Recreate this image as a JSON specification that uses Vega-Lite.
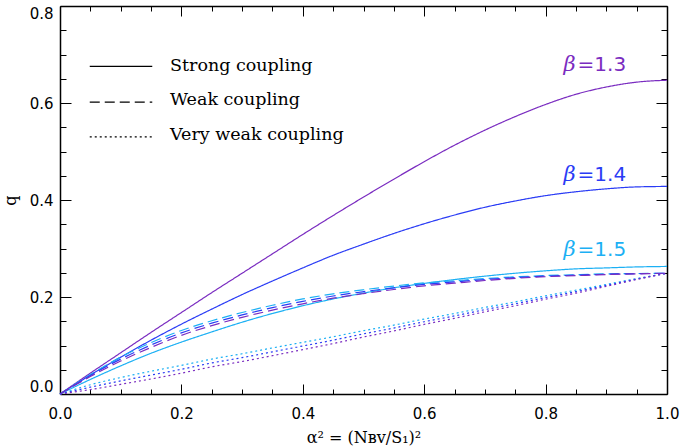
{
  "$schema": "https://vega.github.io/schema/vega-lite/v6.json",
  "width": 607,
  "height": 388,
  "autosize": {"type": "none"},
  "padding": {"left": 60, "top": 6, "right": 14, "bottom": 52},
  "background": "white",
  "config": {
    "view": {"stroke": null},
    "axis": {
      "grid": false,
      "domainColor": "black",
      "domainWidth": 1.5,
      "tickColor": "black",
      "tickWidth": 1,
      "labelColor": "black",
      "labelFont": "DejaVu Sans",
      "labelFontSize": 15,
      "titleColor": "black",
      "titleFont": "DejaVu Serif",
      "titleFontSize": 16,
      "titleFontWeight": "normal",
      "labelOverlap": false,
      "labelBound": false
    }
  },
  "datasets": {
    "curves": [
      {"a": 0, "s13": 0, "s14": 0, "s15": 0, "w13": 0, "w14": 0, "w15": 0, "v13": 0, "v14": 0, "v15": 0},
      {"a": 0.05, "s13": 0.043, "s14": 0.039, "s15": 0.030, "w13": 0.036, "w14": 0.038, "w15": 0.040, "v13": 0.009, "v14": 0.014, "v15": 0.019},
      {"a": 0.1, "s13": 0.085, "s14": 0.076, "s15": 0.058, "w13": 0.068, "w14": 0.072, "w15": 0.076, "v13": 0.020, "v14": 0.027, "v15": 0.034},
      {"a": 0.15, "s13": 0.127, "s14": 0.111, "s15": 0.084, "w13": 0.096, "w14": 0.101, "w15": 0.106, "v13": 0.031, "v14": 0.039, "v15": 0.047},
      {"a": 0.2, "s13": 0.168, "s14": 0.144, "s15": 0.107, "w13": 0.121, "w14": 0.126, "w15": 0.131, "v13": 0.043, "v14": 0.051, "v15": 0.059},
      {"a": 0.25, "s13": 0.209, "s14": 0.175, "s15": 0.128, "w13": 0.141, "w14": 0.146, "w15": 0.151, "v13": 0.056, "v14": 0.064, "v15": 0.072},
      {"a": 0.3, "s13": 0.249, "s14": 0.205, "s15": 0.148, "w13": 0.158, "w14": 0.163, "w15": 0.168, "v13": 0.067, "v14": 0.075, "v15": 0.083},
      {"a": 0.35, "s13": 0.289, "s14": 0.233, "s15": 0.166, "w13": 0.173, "w14": 0.178, "w15": 0.183, "v13": 0.079, "v14": 0.087, "v15": 0.095},
      {"a": 0.4, "s13": 0.329, "s14": 0.260, "s15": 0.182, "w13": 0.186, "w14": 0.191, "w15": 0.196, "v13": 0.0915, "v14": 0.099, "v15": 0.1065},
      {"a": 0.45, "s13": 0.368, "s14": 0.286, "s15": 0.196, "w13": 0.1975, "w14": 0.202, "w15": 0.2065, "v13": 0.104, "v14": 0.111, "v15": 0.118},
      {"a": 0.5, "s13": 0.406, "s14": 0.309, "s15": 0.208, "w13": 0.207, "w14": 0.211, "w15": 0.215, "v13": 0.1175, "v14": 0.124, "v15": 0.1305},
      {"a": 0.55, "s13": 0.443, "s14": 0.331, "s15": 0.219, "w13": 0.2155, "w14": 0.219, "w15": 0.2225, "v13": 0.130, "v14": 0.136, "v15": 0.142},
      {"a": 0.6, "s13": 0.479, "s14": 0.351, "s15": 0.228, "w13": 0.223, "w14": 0.226, "w15": 0.229, "v13": 0.1435, "v14": 0.149, "v15": 0.1545},
      {"a": 0.65, "s13": 0.513, "s14": 0.369, "s15": 0.236, "w13": 0.2285, "w14": 0.231, "w15": 0.2335, "v13": 0.156, "v14": 0.161, "v15": 0.166},
      {"a": 0.7, "s13": 0.544, "s14": 0.385, "s15": 0.243, "w13": 0.234, "w14": 0.236, "w15": 0.238, "v13": 0.1695, "v14": 0.174, "v15": 0.1785},
      {"a": 0.75, "s13": 0.572, "s14": 0.398, "s15": 0.249, "w13": 0.2385, "w14": 0.240, "w15": 0.2415, "v13": 0.182, "v14": 0.186, "v15": 0.190},
      {"a": 0.8, "s13": 0.597, "s14": 0.409, "s15": 0.254, "w13": 0.2418, "w14": 0.243, "w15": 0.2442, "v13": 0.1955, "v14": 0.199, "v15": 0.2025},
      {"a": 0.85, "s13": 0.618, "s14": 0.417, "s15": 0.258, "w13": 0.244, "w14": 0.245, "w15": 0.246, "v13": 0.208, "v14": 0.211, "v15": 0.214},
      {"a": 0.9, "s13": 0.633, "s14": 0.423, "s15": 0.260, "w13": 0.2463, "w14": 0.247, "w15": 0.2477, "v13": 0.222, "v14": 0.224, "v15": 0.226},
      {"a": 0.95, "s13": 0.643, "s14": 0.427, "s15": 0.262, "w13": 0.2476, "w14": 0.248, "w15": 0.2484, "v13": 0.236, "v14": 0.237, "v15": 0.238},
      {"a": 1, "s13": 0.647, "s14": 0.428, "s15": 0.263, "w13": 0.249, "w14": 0.249, "w15": 0.249, "v13": 0.249, "v14": 0.249, "v15": 0.249}
    ],
    "betas": [
      {"series": "s13", "a": 0.851, "q": 0.665, "t": "=1.3"},
      {"series": "s14", "a": 0.851, "q": 0.439, "t": "=1.4"},
      {"series": "s15", "a": 0.851, "q": 0.2855, "t": "=1.5"}
    ],
    "keys": [
      {"series": "s13", "a1": 0.049, "a2": 0.152, "qLine": 0.6755, "aText": 0.1813, "qText": 0.667, "label": "Strong coupling"},
      {"series": "w13", "a1": 0.049, "a2": 0.152, "qLine": 0.602, "aText": 0.1813, "qText": 0.595, "label": "Weak coupling"},
      {"series": "v13", "a1": 0.049, "a2": 0.152, "qLine": 0.530, "aText": 0.1813, "qText": 0.523, "label": "Very weak coupling"}
    ]
  },
  "layer": [
    {
      "data": {"name": "curves"},
      "transform": [
        {"fold": ["s15", "s14", "s13", "w15", "w14", "w13", "v15", "v14", "v13"], "as": ["series", "q"]}
      ],
      "mark": {"type": "line", "strokeCap": "butt", "interpolate": "monotone"},
      "encoding": {
        "x": {
          "field": "a", "type": "quantitative",
          "scale": {"domain": [0, 1], "nice": false, "zero": false},
          "axis": {
            "orient": "bottom",
            "values": [0, 0.05, 0.1, 0.15, 0.2, 0.25, 0.3, 0.35, 0.4, 0.45, 0.5, 0.55, 0.6, 0.65, 0.7, 0.75, 0.8, 0.85, 0.9, 0.95, 1],
            "labelExpr": "abs(datum.value*5 - round(datum.value*5)) < 0.001 ? format(datum.value, '.1f') : ''",
            "tickSize": {"condition": {"test": "abs(datum.value*5 - round(datum.value*5)) < 0.001", "value": -10}, "value": -5},
            "labelPadding": 22,
            "labelFlush": false,
            "title": "α² = (Nʙᴠ/S₁)²",
            "titlePadding": 3
          }
        },
        "y": {
          "field": "q", "type": "quantitative",
          "scale": {"domain": [0, 0.8], "nice": false, "zero": false},
          "axis": {
            "orient": "left",
            "values": [0, 0.05, 0.1, 0.15, 0.2, 0.25, 0.3, 0.35, 0.4, 0.45, 0.5, 0.55, 0.6, 0.65, 0.7, 0.75, 0.8],
            "labelExpr": "abs(datum.value*5 - round(datum.value*5)) < 0.001 ? format(datum.value, '.1f') : ''",
            "tickSize": {"condition": {"test": "abs(datum.value*5 - round(datum.value*5)) < 0.001", "value": -11}, "value": -6},
            "labelPadding": 18,
            "labelFlush": true,
            "title": "q",
            "titlePadding": 11
          }
        },
        "color": {
          "field": "series", "type": "nominal",
          "scale": {
            "domain": ["s13", "s14", "s15", "w13", "w14", "w15", "v13", "v14", "v15"],
            "range": ["#7a2cc0", "#2a3cf5", "#1cb0f4", "#7a2cc0", "#2a3cf5", "#1cb0f4", "#7a2cc0", "#2a3cf5", "#1cb0f4"]
          },
          "legend": null
        },
        "strokeDash": {
          "field": "series", "type": "nominal",
          "scale": {
            "domain": ["s13", "s14", "s15", "w13", "w14", "w15", "v13", "v14", "v15"],
            "range": [[1, 0], [1, 0], [1, 0], [10, 5], [10, 5], [10, 5], [2, 3], [2, 3], [2, 3]]
          },
          "legend": null
        },
        "strokeWidth": {
          "field": "series", "type": "nominal",
          "scale": {
            "domain": ["s13", "s14", "s15", "w13", "w14", "w15", "v13", "v14", "v15"],
            "range": [1.2, 1.2, 1.2, 1.4, 1.4, 1.4, 2, 2, 2]
          },
          "legend": null
        }
      }
    },
    {
      "data": {"name": "betas"},
      "mark": {"type": "text", "align": "left", "baseline": "alphabetic", "font": "DejaVu Sans", "fontSize": 20, "dx": 1},
      "encoding": {
        "x": {
          "field": "a", "type": "quantitative",
          "axis": {
            "orient": "top",
            "values": [0, 0.05, 0.1, 0.15, 0.2, 0.25, 0.3, 0.35, 0.4, 0.45, 0.5, 0.55, 0.6, 0.65, 0.7, 0.75, 0.8, 0.85, 0.9, 0.95, 1],
            "labels": false,
            "tickSize": {"condition": {"test": "abs(datum.value*5 - round(datum.value*5)) < 0.001", "value": -10}, "value": -5},
            "title": null
          }
        },
        "y": {
          "field": "q", "type": "quantitative",
          "axis": {
            "orient": "right",
            "values": [0, 0.05, 0.1, 0.15, 0.2, 0.25, 0.3, 0.35, 0.4, 0.45, 0.5, 0.55, 0.6, 0.65, 0.7, 0.75, 0.8],
            "labels": false,
            "tickSize": {"condition": {"test": "abs(datum.value*5 - round(datum.value*5)) < 0.001", "value": -11}, "value": -6},
            "title": null
          }
        },
        "text": {"field": "t"},
        "color": {"field": "series", "type": "nominal", "legend": null}
      }
    },
    {
      "data": {"name": "betas"},
      "mark": {"type": "text", "align": "right", "baseline": "alphabetic", "font": "DejaVu Serif", "fontStyle": "italic", "fontSize": 21, "dx": -1, "text": "β"},
      "encoding": {
        "x": {"field": "a", "type": "quantitative", "axis": null},
        "y": {"field": "q", "type": "quantitative", "axis": null},
        "color": {"field": "series", "type": "nominal", "legend": null}
      }
    },
    {
      "data": {"name": "keys"},
      "mark": {"type": "rule", "color": "black", "strokeWidth": 1.2},
      "encoding": {
        "x": {"field": "a1", "type": "quantitative", "axis": null},
        "x2": {"field": "a2"},
        "y": {"field": "qLine", "type": "quantitative", "axis": null},
        "strokeDash": {"field": "series", "type": "nominal", "legend": null},
        "strokeWidth": {"field": "series", "type": "nominal", "legend": null}
      }
    },
    {
      "data": {"name": "keys"},
      "mark": {"type": "text", "align": "left", "baseline": "alphabetic", "font": "DejaVu Serif", "fontSize": 17.5, "color": "black"},
      "encoding": {
        "x": {"field": "aText", "type": "quantitative", "axis": null},
        "y": {"field": "qText", "type": "quantitative", "axis": null},
        "text": {"field": "label"}
      }
    }
  ],
  "resolve": {"axis": {"x": "independent", "y": "independent"}}
}
